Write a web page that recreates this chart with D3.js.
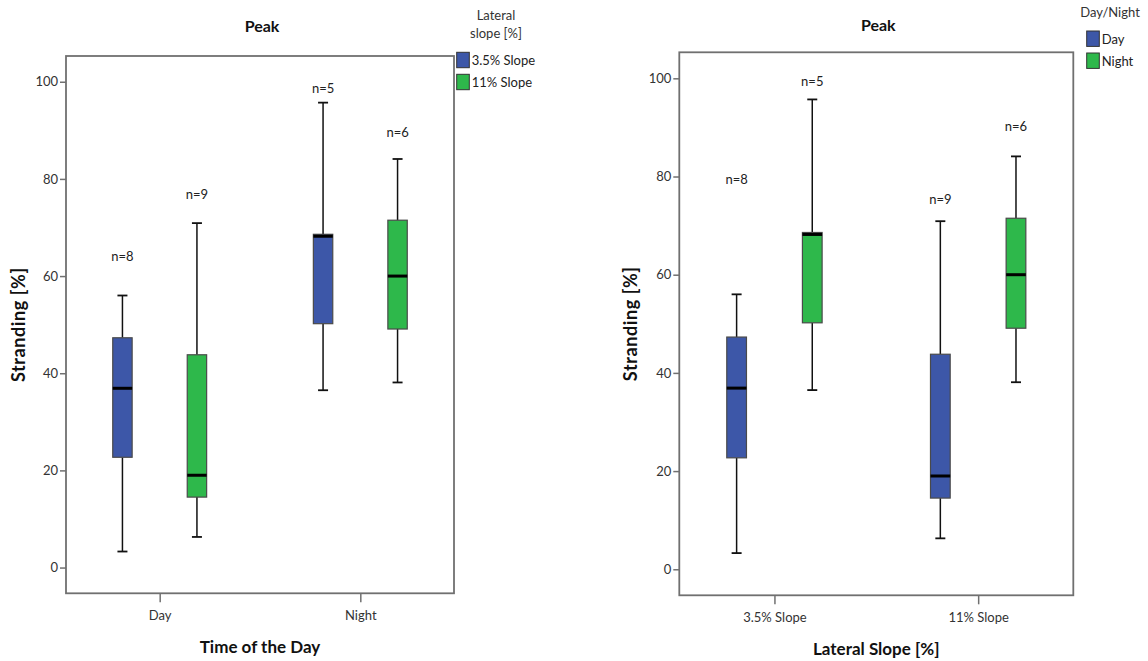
<!DOCTYPE html>
<html>
<head>
<meta charset="utf-8">
<script src="https://cdn.jsdelivr.net/npm/d3@7"></script>
<style>
  html, body { margin: 0; padding: 0; background: #fff; }
  svg { display: block; font-family: Lato, "Open Sans", sans-serif; }
</style>
</head>
<body>
<svg id="chart" width="1148" height="661"></svg>
<script>
// Stranding [%] at peak, grouped by time of day and lateral slope
const timeOfDay = ["Day", "Night"];
const slopes = ["3.5% Slope", "11% Slope"];
const yTicks = [0, 20, 40, 60, 80, 100];

// one entry per group: Day/3.5%, Day/11%, Night/3.5%, Night/11%
const groupTime  = ["Day", "Day", "Night", "Night"];
const groupSlope = ["3.5% Slope", "11% Slope", "3.5% Slope", "11% Slope"];
const minVals = [3.3, 6.3, 36.5, 38.1];
const q1Vals  = [22.7, 14.5, 50.2, 49.1];
const medVals = [36.9, 19.0, 68.2, 60.0];
const q3Vals  = [47.3, 43.8, 68.6, 71.5];
const maxVals = [56.0, 70.9, 95.7, 84.1];
const nCounts = [8, 9, 5, 6];
// height (in % stranding) of each "n=" annotation, per panel
const nLabelByTime  = [64.1, 76.8, 98.6, 89.6];
const nLabelBySlope = [79.3, 75.4, 99.4, 90.2];

const BLUE = "#3d57a8", GREEN = "#2eb84b";

const groups = groupTime.map((t, i) => ({
  time: t, slope: groupSlope[i],
  min: minVals[i], q1: q1Vals[i], med: medVals[i], q3: q3Vals[i], max: maxVals[i],
  n: nCounts[i], labTime: nLabelByTime[i], labSlope: nLabelBySlope[i]
}));

const svg = d3.select("#chart");

function drawPanel(o) {
  const w = o.x1 - o.x0, h = o.y1 - o.y0;
  const g = svg.append("g").attr("transform", `translate(${o.x0},${o.y0})`);

  const y = d3.scaleLinear().domain([-5.3, 105.3]).range([h, 0]);
  const x = d3.scalePoint().domain(o.categories).range([0, w]).padding(0.467);
  const off = w * 0.096;
  const xs = d3.scalePoint().domain(o.series).range([-off, off]);
  const color = d3.scaleOrdinal().domain(o.series).range([BLUE, GREEN]);
  const bw = w * 0.05, cap = 10;

  // frame
  g.append("rect").attr("width", w).attr("height", h)
    .attr("fill", "none").attr("stroke", "#707070").attr("stroke-width", 1.8);

  // y axis
  const ya = g.append("g").call(d3.axisLeft(y).tickValues(yTicks).tickSize(6).tickPadding(2));
  ya.select(".domain").remove();
  ya.selectAll("line").attr("stroke", "#707070").attr("stroke-width", 1.5);
  ya.selectAll("text").attr("font-family", "Lato").attr("font-size", 13).attr("fill", "#333");

  // x axis
  const xa = g.append("g").attr("transform", `translate(0,${h})`)
    .call(d3.axisBottom(x).tickSize(9).tickPadding(8));
  xa.select(".domain").remove();
  xa.selectAll("line").attr("stroke", "#707070").attr("stroke-width", 1.5);
  xa.selectAll("text").attr("font-family", "Lato").attr("font-size", 13).attr("fill", "#333");

  const cx = d => x(o.cat(d)) + xs(o.ser(d));

  const bx = g.selectAll("g.box").data(groups).join("g").attr("class", "box");
  // whiskers
  bx.append("line").attr("x1", cx).attr("x2", cx)
    .attr("y1", d => y(d.max)).attr("y2", d => y(d.q3))
    .attr("stroke", "#111").attr("stroke-width", 1.5);
  bx.append("line").attr("x1", cx).attr("x2", cx)
    .attr("y1", d => y(d.q1)).attr("y2", d => y(d.min))
    .attr("stroke", "#111").attr("stroke-width", 1.5);
  bx.append("line").attr("x1", d => cx(d) - cap / 2).attr("x2", d => cx(d) + cap / 2)
    .attr("y1", d => y(d.max)).attr("y2", d => y(d.max))
    .attr("stroke", "#111").attr("stroke-width", 1.8);
  bx.append("line").attr("x1", d => cx(d) - cap / 2).attr("x2", d => cx(d) + cap / 2)
    .attr("y1", d => y(d.min)).attr("y2", d => y(d.min))
    .attr("stroke", "#111").attr("stroke-width", 1.8);
  // box
  bx.append("rect")
    .attr("x", d => cx(d) - bw / 2).attr("width", bw)
    .attr("y", d => y(d.q3)).attr("height", d => y(d.q1) - y(d.q3))
    .attr("fill", d => color(o.ser(d))).attr("stroke", "#4a4a4a").attr("stroke-width", 1.2);
  // median
  bx.append("line").attr("x1", d => cx(d) - bw / 2).attr("x2", d => cx(d) + bw / 2)
    .attr("y1", d => y(d.med)).attr("y2", d => y(d.med))
    .attr("stroke", "#000").attr("stroke-width", 3);
  // n annotations
  bx.append("text").attr("x", cx).attr("y", d => y(o.lab(d)))
    .attr("dy", "0.35em").attr("text-anchor", "middle")
    .attr("font-size", 13).attr("fill", "#222")
    .text(d => "n=" + d.n);

  // titles
  g.append("text").attr("x", w / 2 + 2).attr("y", o.titleY - o.y0)
    .attr("dy", "0.35em").attr("text-anchor", "middle")
    .attr("font-size", 16).attr("font-weight", 700).attr("fill", "#111").text("Peak");
  g.append("text").attr("x", w / 2).attr("y", o.xTitleY - o.y0)
    .attr("dy", "0.35em").attr("text-anchor", "middle")
    .attr("font-size", 17).attr("font-weight", 700).attr("fill", "#111").text(o.xTitle);
  g.append("text")
    .attr("transform", `translate(${o.yTitleX - o.x0},${h / 2}) rotate(-90)`)
    .attr("dy", "0.35em").attr("text-anchor", "middle")
    .attr("font-size", 18).attr("font-weight", 700).attr("letter-spacing", 0.6)
    .attr("fill", "#111").text("Stranding [%]");

  // legend
  const lg = svg.append("g");
  o.legendTitle.forEach((t, i) => {
    lg.append("text").attr("x", o.legTitleX).attr("y", o.legTitleY + i * 18.3)
      .attr("dy", "0.35em").attr("text-anchor", "middle")
      .attr("font-size", 13).attr("fill", "#333").text(t);
  });
  o.series.forEach((s, i) => {
    const ty = o.legY + i * 22;
    lg.append("rect").attr("x", o.legX).attr("y", ty).attr("width", 12.6).attr("height", 15.4)
      .attr("fill", color(s)).attr("stroke", "#333").attr("stroke-width", 1);
    lg.append("text").attr("x", o.legX + 15).attr("y", ty + 8)
      .attr("dy", "0.35em").attr("font-size", 13).attr("fill", "#222").text(s);
  });
}

// panel 1: by time of day, coloured by slope
drawPanel({
  x0: 66, x1: 454, y0: 56, y1: 593.3,
  categories: timeOfDay, series: slopes,
  cat: d => d.time, ser: d => d.slope, lab: d => d.labTime,
  titleY: 26.7, xTitle: "Time of the Day", xTitleY: 647, yTitleX: 19,
  legendTitle: ["Lateral", "slope [%]"], legTitleX: 496, legTitleY: 15,
  legX: 456.7, legY: 52.3
});

// panel 2: by lateral slope, coloured by time of day
drawPanel({
  x0: 679.3, x1: 1073.3, y0: 52.3, y1: 595.3,
  categories: slopes, series: timeOfDay,
  cat: d => d.slope, ser: d => d.time, lab: d => d.labSlope,
  titleY: 25, xTitle: "Lateral Slope [%]", xTitleY: 649.3, yTitleX: 631,
  legendTitle: ["Day/Night"], legTitleX: 1110, legTitleY: 12.3,
  legX: 1086.7, legY: 31
});
</script>
</body>
</html>
